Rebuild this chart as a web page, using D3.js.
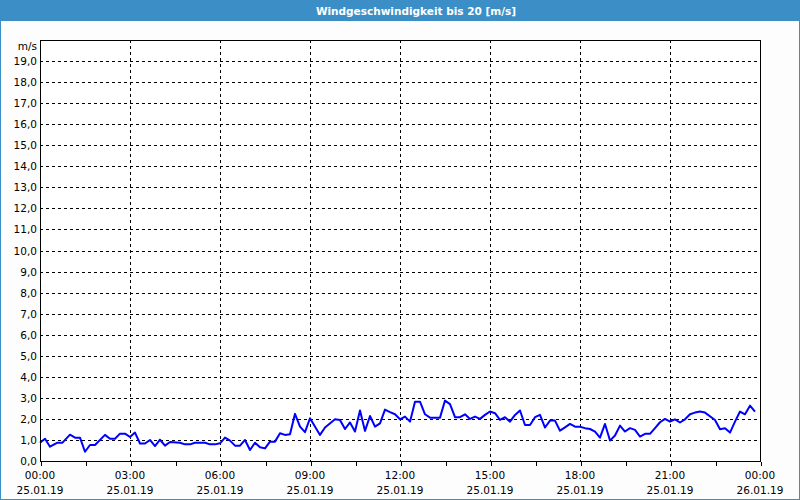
<!DOCTYPE html>
<html><head><meta charset="utf-8">
<script src="https://cdn.jsdelivr.net/npm/d3@7"></script>
<style>
html,body{margin:0;padding:0;background:#fff;}
svg{display:block;}
</style></head>
<body>
<svg id="c" width="800" height="500"></svg>
<script>
const title = "Windgeschwindigkeit bis 20 [m/s]";
const unitLabel = "m/s";
const times = ["00:00","00:10","00:20","00:35","00:45","01:00","01:10","01:20","01:30","01:40","01:50","02:10","02:20","02:30","02:40","02:50","03:00","03:10","03:20","03:30","03:40","03:50","04:00","04:10","04:20","04:40","04:50","05:00","05:10","05:30","05:40","05:50","06:00","06:10","06:20","06:30","06:40","06:50","07:00","07:10","07:20","07:30","07:40","07:50","08:00","08:10","08:20","08:30","08:40","08:50","09:00","09:20","09:30","09:50","10:00","10:10","10:20","10:30","10:40","10:50","11:00","11:10","11:20","11:30","11:40","11:50","12:00","12:10","12:20","12:30","12:40","12:50","13:00","13:20","13:30","13:40","13:50","14:00","14:10","14:20","14:30","14:40","14:50","15:00","15:10","15:20","15:30","15:40","15:50","16:00","16:10","16:20","16:30","16:40","16:50","17:00","17:10","17:20","17:30","17:40","17:50","18:00","18:10","18:20","18:30","18:40","18:50","19:00","19:10","19:20","19:30","19:40","19:50","20:00","20:10","20:20","20:30","20:40","20:50","21:00","21:10","21:20","21:30","21:40","21:50","22:00","22:10","22:30","22:40","22:50","23:00","23:10","23:20","23:30","23:40","23:50"];
const speeds = [0.87,1.06,0.68,0.87,0.87,1.25,1.11,1.11,0.44,0.76,0.76,1.24,1.06,1.06,1.30,1.30,1.14,1.35,0.83,0.83,1.00,0.71,1.01,0.73,0.90,0.87,0.79,0.79,0.87,0.87,0.79,0.79,0.84,1.11,0.97,0.73,0.73,1.00,0.52,0.87,0.65,0.60,0.92,0.92,1.32,1.24,1.27,2.24,1.63,1.37,2.03,1.24,1.59,1.98,1.95,1.52,1.83,1.40,2.40,1.43,2.14,1.63,1.79,2.44,2.32,2.22,1.98,2.11,1.87,2.82,2.82,2.22,2.06,2.06,2.87,2.70,2.08,2.08,2.22,2.00,2.11,2.00,2.19,2.35,2.27,1.95,2.08,1.87,2.19,2.40,1.71,1.71,2.08,2.19,1.59,1.92,1.92,1.44,1.60,1.76,1.63,1.63,1.56,1.52,1.40,1.11,1.76,0.97,1.21,1.68,1.40,1.56,1.48,1.16,1.29,1.29,1.56,1.84,2.00,1.87,1.98,1.83,1.98,2.22,2.30,2.35,2.30,1.95,1.51,1.56,1.35,1.87,2.35,2.22,2.63,2.35];
const yTicks = [0,1,2,3,4,5,6,7,8,9,10,11,12,13,14,15,16,17,18,19];
const xTickHours = [0,3,6,9,12,15,18,21,24];
const xTickTimes = ["00:00","03:00","06:00","09:00","12:00","15:00","18:00","21:00","00:00"];
const xTickDates = ["25.01.19","25.01.19","25.01.19","25.01.19","25.01.19","25.01.19","25.01.19","25.01.19","26.01.19"];
const yMax = 20;

(function(){
const svg = d3.select("#c");
const W = 800, H = 500;
const mL = 40, mR = 760, mT = 40, mB = 461;
const blue = "#3c8fc6";
const font = "'DejaVu Sans', Verdana, sans-serif";

svg.append("rect").attr("x",0).attr("y",0).attr("width",W).attr("height",H).attr("fill",blue);
svg.append("rect").attr("x",1).attr("y",21).attr("width",W-2).attr("height",H-22).attr("fill","#fcfdfc");
svg.append("text").attr("x",416).attr("y",14.5).attr("text-anchor","middle")
  .attr("fill","#fff").attr("font-family",font).attr("font-weight","bold").attr("font-size",10.5)
  .text(title);

const parse = d3.timeParse("%H:%M");
const t0 = parse("00:00");
const hours = times.map(t => (parse(t) - t0) / 3600000);

const x = d3.scaleLinear().domain([0,24]).range([mL,mR]);
const y = d3.scaleLinear().domain([0,yMax]).range([mB,mT]);

svg.append("rect").attr("x",mL).attr("y",mT).attr("width",mR-mL).attr("height",mB-mT).attr("fill","#fff");

const g = svg.append("g");
g.selectAll("line.h").data(yTicks.filter(v=>v>0)).join("line")
  .attr("x1",mL).attr("x2",mR).attr("y1",d=>Math.round(y(d))+0.5).attr("y2",d=>Math.round(y(d))+0.5)
  .attr("stroke","#000").attr("stroke-dasharray","3,3").attr("shape-rendering","crispEdges");
g.selectAll("line.v").data(xTickHours.filter(h=>h>0&&h<24)).join("line")
  .attr("x1",d=>Math.round(x(d))+0.5).attr("x2",d=>Math.round(x(d))+0.5).attr("y1",mT).attr("y2",mB)
  .attr("stroke","#000").attr("stroke-dasharray","3,3").attr("shape-rendering","crispEdges");

svg.append("path").datum(hours.map((h,i)=>[h,speeds[i]]))
  .attr("d", d3.line().x(d=>x(d[0])).y(d=>y(d[1])))
  .attr("fill","none").attr("stroke","#0000ff").attr("stroke-width",2).attr("stroke-linejoin","round");

svg.append("rect").attr("x",mL+0.5).attr("y",mT+0.5).attr("width",mR-mL).attr("height",mB-mT)
  .attr("fill","none").attr("stroke","#000").attr("shape-rendering","crispEdges");

const xAxis = d3.axisBottom(x).tickValues(d3.range(0,24.01,1.5)).tickSize(4).tickFormat("");
const xa = svg.append("g").attr("transform",`translate(0.5,${mB+0.5})`).call(xAxis);
xa.select(".domain").remove();
xa.selectAll("line").attr("stroke","#000").attr("shape-rendering","crispEdges");

const xl = svg.append("g").attr("font-family",font).attr("font-size",10.5).attr("fill","#000");
xl.selectAll("text.t").data(xTickHours).join("text").attr("class","t")
  .attr("x",d=>x(d)).attr("y",479).attr("text-anchor","middle").text((d,i)=>xTickTimes[i]);
xl.selectAll("text.d").data(xTickHours).join("text").attr("class","d")
  .attr("x",d=>x(d)).attr("y",494).attr("text-anchor","middle").text((d,i)=>xTickDates[i]);

const fmt = d3.format(".1f");
const yl = svg.append("g").attr("font-family",font).attr("font-size",10.5).attr("fill","#000");
yl.selectAll("text").data(yTicks).join("text")
  .attr("x",37).attr("y",d=>y(d)+4).attr("text-anchor","end").text(d=>fmt(d).replace(".",","));
yl.append("text").attr("x",37).attr("y",50).attr("text-anchor","end").text(unitLabel);
})();
</script>
</body></html>
